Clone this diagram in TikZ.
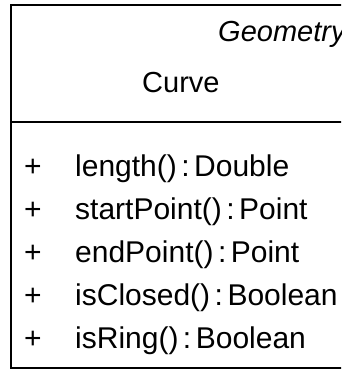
\documentclass[tikz,border=0pt]{standalone}
\usepackage{fontspec}
\setmainfont{Liberation Sans}
\usetikzlibrary{positioning}
\newcommand{\sep}{\hspace{0.15em}:\hspace{0.15em}}
\tikzset{
  umlbox/.style={draw=black,line width=2pt},
  pkg/.style={font=\fontsize{29}{34}\selectfont\itshape,anchor=base west,inner sep=0pt},
  cls/.style={font=\fontsize{29}{34}\selectfont,anchor=base west,inner sep=0pt},
  vis/.style={font=\fontsize{30}{36}\selectfont,anchor=base,inner sep=0pt},
  op/.style={font=\fontsize{30}{36}\selectfont,anchor=base west,inner sep=0pt},
}
\begin{document}
\begin{tikzpicture}[x=1pt,y=1pt]
  \useasboundingbox (0,0) rectangle (341,370);
  \clip (0,0) rectangle (341,370);
  % class box, runs on past the right edge
  \draw[umlbox] (11,2) rectangle (360,365);
  \draw[umlbox] (11,248) -- (360,248);
  \node[pkg] (pkg) at (218,328) {Geometry};
  \node[cls] (cls) at (142,277) {Curve};
  % operations
  \foreach \m [count=\i] in {{length()\sep Double},{startPoint()\sep Point},{endPoint()\sep Point},
      {isClosed()\sep Boolean},{isRing()\sep Boolean}} {
    \node[vis] (plus\i) at (33,{193-43*(\i-1)}) {+};
    \node[op] (op\i) at (75,{193-43*(\i-1)}) {\m};
  }
\end{tikzpicture}
\end{document}
